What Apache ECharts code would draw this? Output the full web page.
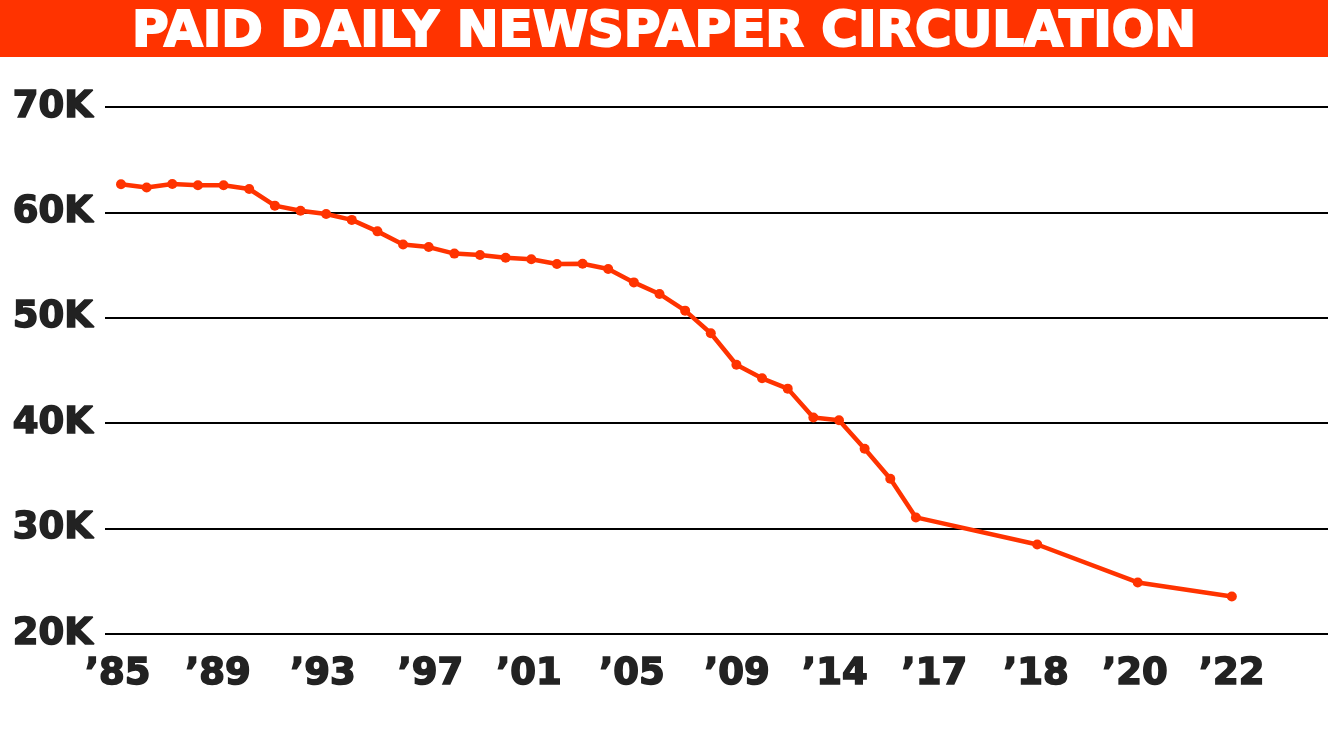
<!DOCTYPE html>
<html>
<head>
    <meta charset="UTF-8">
    <title>Paid daily newspaper circulation</title>
    <script src="https://cdn.jsdelivr.net/npm/echarts@6/dist/echarts.min.js"></script>
    <style>
        html, body { margin: 0; padding: 0; background: #fff; }
        #chart { width: 1328px; height: 736px; }
    </style>
</head>
<body>
<div id="chart"></div>

<script type="text/javascript">
    // position of each point along the time axis, in yearly steps from 1985
    var positions = [0, 1, 2, 3, 4, 5, 6, 7, 8, 9, 10, 11, 12, 13, 14, 15, 16, 17, 18, 19,
        20, 21, 22, 23, 24, 25, 26, 27, 28, 29, 30, 31, 35.73, 39.65, 43.32];
    // paid daily circulation, thousands
    var circulation = [62.67, 62.36, 62.70, 62.58, 62.58, 62.22, 60.64, 60.15, 59.85, 59.29,
        58.20, 56.96, 56.71, 56.09, 55.96, 55.69, 55.56, 55.10, 55.13, 54.63,
        53.36, 52.26, 50.68, 48.53, 45.55, 44.26, 43.28, 40.54, 40.28, 37.58,
        34.73, 31.06, 28.49, 24.89, 23.56];
    // year labels and where they sit on the time axis
    var tickLabels = ['’85', '’89', '’93', '’97', '’01', '’05', '’09', '’14', '’17', '’18', '’20', '’22'];
    var tickPositions = [-0.13, 3.78, 7.88, 12.07, 15.91, 19.93, 24.02, 27.84, 31.72, 35.68, 39.54, 43.32];

    var RED = '#ff3300';
    var labelFont = {
        fontFamily: 'DejaVu Sans',
        fontWeight: 'bold',
        fontSize: 37,
        color: '#222',
        textBorderColor: '#222',
        textBorderWidth: 1.6
    };

    var chart = echarts.init(document.getElementById('chart'));

    var seriesData = positions.map(function (p, i) {
        return [p, circulation[i] * 1000];
    });

    var option = {
        animation: false,
        backgroundColor: '#fff',
        graphic: [
            {
                type: 'rect',
                z: 0,
                shape: { x: 0, y: 0, width: 1328, height: 57 },
                style: { fill: RED }
            },
            {
                type: 'text',
                z: 1,
                x: 664,
                y: 33,
                style: {
                    text: 'PAID DAILY NEWSPAPER CIRCULATION',
                    fill: '#fff',
                    stroke: '#fff',
                    lineWidth: 2,
                    font: 'bold 50px "DejaVu Sans"',
                    textAlign: 'center',
                    textVerticalAlign: 'middle'
                }
            }
        ],
        grid: {
            left: 105,
            right: 0,
            top: 107,
            bottom: 102
        },
        xAxis: {
            type: 'value',
            min: -0.624,
            max: 47.07,
            axisLine: { show: false },
            axisTick: { show: false },
            splitLine: { show: false },
            axisLabel: Object.assign({
                customValues: tickPositions,
                margin: 22,
                formatter: function (v) {
                    var best = 0;
                    for (var i = 1; i < tickPositions.length; i++) {
                        if (Math.abs(tickPositions[i] - v) < Math.abs(tickPositions[best] - v)) best = i;
                    }
                    return tickLabels[best];
                }
            }, labelFont)
        },
        yAxis: {
            type: 'value',
            min: 20000,
            max: 70000,
            interval: 10000,
            axisLine: { show: false },
            axisTick: { show: false },
            splitLine: {
                lineStyle: { color: '#000', width: 2 }
            },
            axisLabel: Object.assign({
                margin: 12,
                formatter: function (v) { return (v / 1000) + 'K'; }
            }, labelFont)
        },
        series: [
            {
                name: 'circulation',
                type: 'line',
                data: seriesData,
                symbol: 'circle',
                symbolSize: 10,
                lineStyle: { color: RED, width: 4.5 },
                itemStyle: { color: RED },
                z: 5
            }
        ]
    };

    chart.setOption(option);
</script>
</body>
</html>
